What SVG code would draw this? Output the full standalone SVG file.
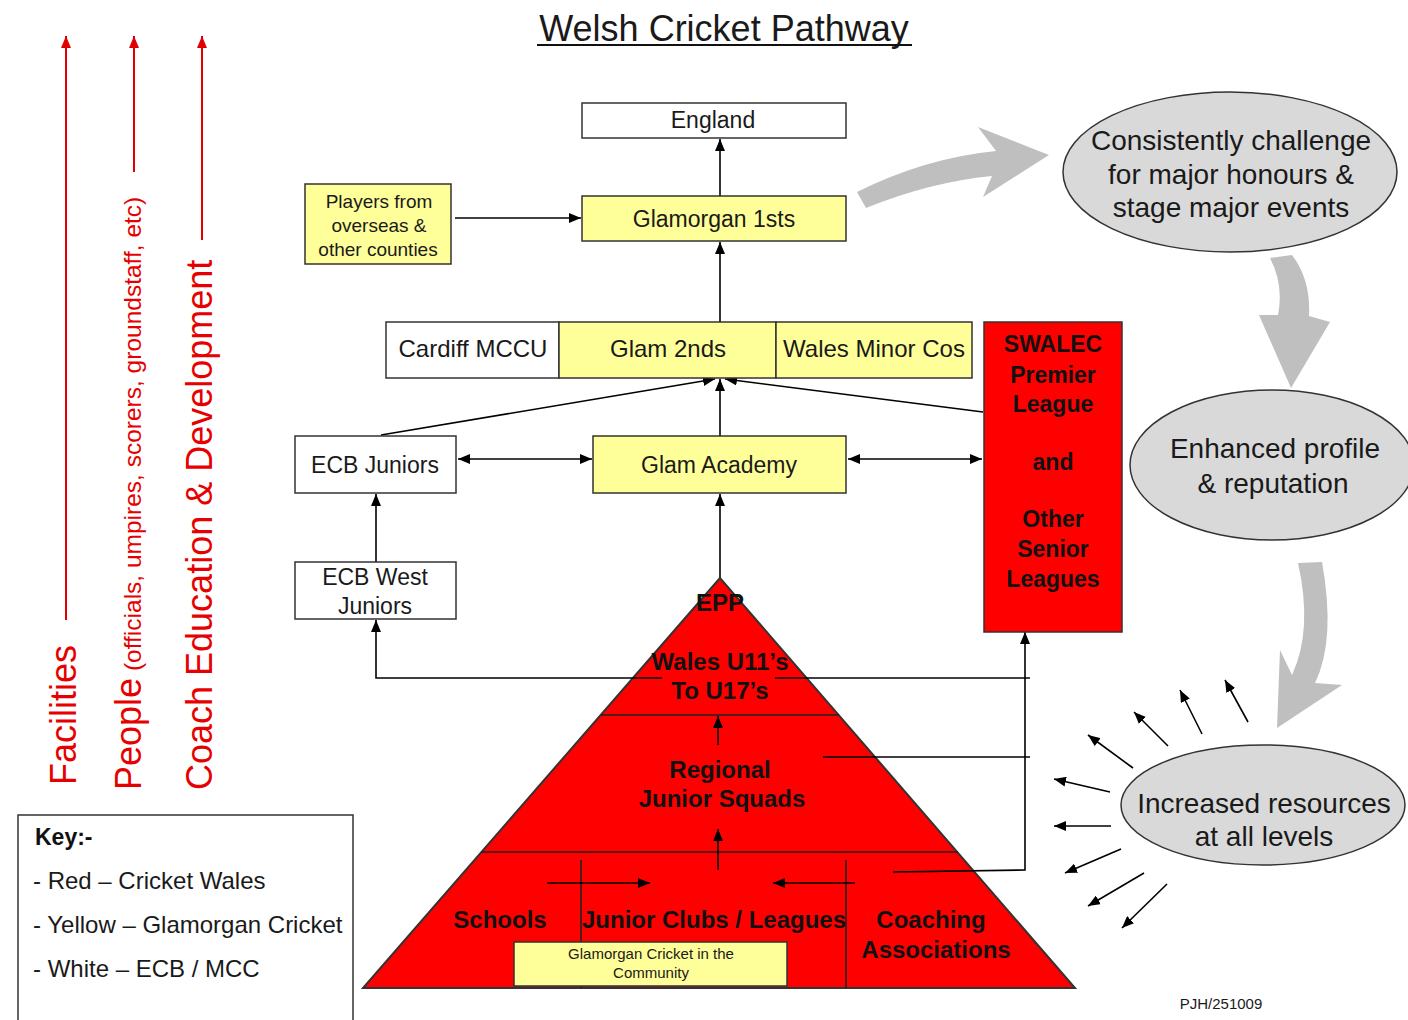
<svg xmlns="http://www.w3.org/2000/svg" width="1408" height="1020" viewBox="0 0 1408 1020">
<defs>
<marker id="ah" viewBox="0 0 10 10" refX="10" refY="5" markerWidth="12" markerHeight="10" markerUnits="userSpaceOnUse" orient="auto-start-reverse" preserveAspectRatio="none"><path d="M0,0 L10,5 L0,10 z" fill="#000"/></marker>
<marker id="rah" viewBox="0 0 10 10" refX="10" refY="5" markerWidth="12" markerHeight="10" markerUnits="userSpaceOnUse" orient="auto" preserveAspectRatio="none"><path d="M0,0 L10,5 L0,10 z" fill="#e00000"/></marker>
<style>
.box{stroke:#333;stroke-width:1.5}
.w{fill:#fff}
.y{fill:#ffff99}
.r{fill:#ff0000}
.t{font-family:"Liberation Sans",Arial,sans-serif;fill:#1a1a1a;text-anchor:middle}
.b{font-weight:bold;fill:#111}
.c{stroke:#000;stroke-width:1.6;fill:none}
.ca{stroke:#000;stroke-width:1.6;fill:none;marker-end:url(#ah)}
.cd{stroke:#000;stroke-width:1.6;fill:none;marker-end:url(#ah);marker-start:url(#ah)}
.red{stroke:#e00000;stroke-width:2;fill:none;marker-end:url(#rah)}
.rt{font-family:"Liberation Sans",Arial,sans-serif;fill:#e60000}
.ell{fill:#d9d9d9;stroke:#333;stroke-width:1.5}
.gray{fill:#bfbfbf}
</style>
</defs>
<rect width="1408" height="1020" fill="#fff"/>

<g id="title">
<text class="t" x="724" y="41" font-size="36">Welsh Cricket Pathway</text>
<line x1="537" y1="45" x2="912" y2="45" stroke="#111" stroke-width="2"/>
</g>

<g id="side-arrows">
<line class="red" x1="66" y1="620" x2="66" y2="36"/>
<line class="red" x1="134" y1="172" x2="134" y2="36"/>
<line class="red" x1="202" y1="240" x2="202" y2="36"/>
<text class="rt" transform="translate(76,785) rotate(-90)" font-size="36">Facilities</text>
<text class="rt" transform="translate(141,790) rotate(-90)" font-size="36">People<tspan font-size="24.5"> (officials, umpires, scorers, groundstaff, etc)</tspan></text>
<text class="rt" transform="translate(212,790) rotate(-90)" font-size="36">Coach Education &amp; Development</text>
</g>

<g id="key">
<rect x="18" y="815" width="335" height="215" fill="#fff" stroke="#333" stroke-width="1.5"/>
<text class="t b" x="35" y="845" font-size="23" style="text-anchor:start">Key:-</text>
<text class="t" x="33" y="889" font-size="24" style="text-anchor:start">- Red – Cricket Wales</text>
<text class="t" x="33" y="933" font-size="24" style="text-anchor:start">- Yellow – Glamorgan Cricket</text>
<text class="t" x="33" y="977" font-size="24" style="text-anchor:start">- White – ECB / MCC</text>
</g>

<g id="gray-arrows">
<path class="gray" d="M857,192 Q925,158 996,151 L978,127 L1049,155 L983,197 L992,176 Q930,182 866,208 Z"/>
<path class="gray" d="M1270,258 Q1284,285 1278,315 L1259,315 L1291,388 L1330,322 L1309,316 Q1311,280 1292,255 Z"/>
<path class="gray" d="M1298,563 L1322,562 Q1336,640 1315,683 L1342,685 L1277,728 L1280,650 L1292,675 Q1313,630 1298,563 Z"/>
</g>

<g id="connectors">
<line class="ca" x1="720" y1="196" x2="720" y2="139"/>
<line class="ca" x1="455" y1="218" x2="581" y2="218"/>
<line class="ca" x1="720" y1="322" x2="720" y2="242"/>
<line class="ca" x1="381" y1="435" x2="715" y2="379"/>
<line class="ca" x1="720" y1="436" x2="720" y2="379"/>
<line class="ca" x1="983" y1="412" x2="725" y2="379"/>
<line class="cd" x1="458" y1="459" x2="592" y2="459"/>
<line class="cd" x1="848" y1="459" x2="982" y2="459"/>
<line class="ca" x1="376" y1="562" x2="376" y2="494"/>
<line class="ca" x1="720" y1="578" x2="720" y2="494"/>
</g>

<g id="pyramid">
<polygon points="720,578 363,988 1075,988" fill="#ff0000" stroke="#333" stroke-width="2"/>
<line x1="601" y1="715" x2="839" y2="715" stroke="#222" stroke-width="1.6"/>
<line x1="481" y1="852" x2="958" y2="852" stroke="#222" stroke-width="1.6"/>
<line x1="581" y1="860" x2="581" y2="988" stroke="#222" stroke-width="1.6"/>
<line x1="846" y1="860" x2="846" y2="988" stroke="#222" stroke-width="1.6"/>
<text class="t b" x="720" y="611" font-size="24">EPP</text>
<text class="t b" x="720" y="670" font-size="24">Wales U11’s</text>
<text class="t b" x="720" y="699" font-size="24">To U17’s</text>
<text class="t b" x="720" y="778" font-size="24">Regional</text>
<text class="t b" x="722" y="807" font-size="24">Junior Squads</text>
<text class="t b" x="500" y="928" font-size="24">Schools</text>
<text class="t b" x="714" y="928" font-size="24">Junior Clubs / Leagues</text>
<text class="t b" x="931" y="928" font-size="24">Coaching</text>
<text class="t b" x="936" y="958" font-size="24">Associations</text>
</g>

<g id="pyramid-connectors">
<line class="ca" x1="718" y1="745" x2="718" y2="716"/>
<line class="ca" x1="718" y1="870" x2="718" y2="829"/>
<line class="ca" x1="547" y1="883" x2="650" y2="883"/>
<line class="ca" x1="855" y1="883" x2="773" y2="883"/>
<polyline class="ca" points="893,872 1025,870 1025,632"/>
<line class="c" x1="823" y1="757" x2="1030" y2="757"/>
<polyline class="ca" points="662,678 376,678 376,620"/>
<line class="c" x1="775" y1="678" x2="1030" y2="678"/>
</g>

<g id="community">
<rect class="box y" x="514" y="942" width="273" height="44"/>
<text class="t" x="651" y="959" font-size="15">Glamorgan Cricket in the</text>
<text class="t" x="651" y="978" font-size="15">Community</text>
</g>

<g id="england">
<rect class="box w" x="582" y="103" width="264" height="35"/>
<text class="t" x="713" y="128" font-size="23">England</text>
</g>
<g id="glam1">
<rect class="box y" x="582" y="196" width="264" height="45"/>
<text class="t" x="714" y="227" font-size="23">Glamorgan 1sts</text>
</g>
<g id="players">
<rect class="box y" x="305" y="184" width="146" height="80"/>
<text class="t" x="379" y="208" font-size="19">Players from</text>
<text class="t" x="379" y="232" font-size="19">overseas &amp;</text>
<text class="t" x="378" y="256" font-size="19">other counties</text>
</g>
<g id="cardiff">
<rect class="box w" x="386" y="322" width="173" height="56"/>
<text class="t" x="473" y="357" font-size="24">Cardiff MCCU</text>
</g>
<g id="glam2">
<rect class="box y" x="559" y="322" width="217" height="56"/>
<text class="t" x="668" y="357" font-size="24">Glam 2nds</text>
</g>
<g id="minor">
<rect class="box y" x="776" y="322" width="196" height="56"/>
<text class="t" x="874" y="357" font-size="24">Wales Minor Cos</text>
</g>
<g id="swalec">
<rect class="box r" x="984" y="322" width="138" height="310"/>
<text class="t b" x="1053" y="352" font-size="23">SWALEC</text>
<text class="t b" x="1053" y="383" font-size="23">Premier</text>
<text class="t b" x="1053" y="412" font-size="23">League</text>
<text class="t b" x="1053" y="470" font-size="23">and</text>
<text class="t b" x="1053" y="527" font-size="23">Other</text>
<text class="t b" x="1053" y="557" font-size="23">Senior</text>
<text class="t b" x="1053" y="587" font-size="23">Leagues</text>
</g>
<g id="ecbjuniors">
<rect class="box w" x="295" y="436" width="161" height="57"/>
<text class="t" x="375" y="473" font-size="23">ECB Juniors</text>
</g>
<g id="academy">
<rect class="box y" x="593" y="436" width="253" height="57"/>
<text class="t" x="719" y="473" font-size="23">Glam Academy</text>
</g>
<g id="ecbwest">
<rect class="box w" x="295" y="562" width="161" height="57"/>
<text class="t" x="375" y="585" font-size="23">ECB West</text>
<text class="t" x="375" y="614" font-size="23">Juniors</text>
</g>

<g id="honours">
<ellipse class="ell" cx="1230" cy="172" rx="167" ry="80"/>
<text class="t" x="1231" y="150" font-size="28">Consistently challenge</text>
<text class="t" x="1231" y="184" font-size="28">for major honours &amp;</text>
<text class="t" x="1231" y="217" font-size="28">stage major events</text>
</g>
<g id="profile">
<ellipse class="ell" cx="1272" cy="465" rx="142" ry="75"/>
<text class="t" x="1275" y="458" font-size="28">Enhanced profile</text>
<text class="t" x="1273" y="493" font-size="28">&amp; reputation</text>
</g>
<g id="resources">
<ellipse class="ell" cx="1263" cy="805" rx="142" ry="60"/>
<text class="t" x="1264" y="813" font-size="28">Increased resources</text>
<text class="t" x="1264" y="846" font-size="28">at all levels</text>
</g>

<g id="burst">
<line class="ca" x1="1248" y1="722" x2="1225" y2="680"/>
<line class="ca" x1="1202" y1="734" x2="1180" y2="690"/>
<line class="ca" x1="1168" y1="746" x2="1134" y2="712"/>
<line class="ca" x1="1133" y1="768" x2="1088" y2="735"/>
<line class="ca" x1="1110" y1="792" x2="1054" y2="779"/>
<line class="ca" x1="1111" y1="826" x2="1054" y2="826"/>
<line class="ca" x1="1121" y1="849" x2="1065" y2="873"/>
<line class="ca" x1="1144" y1="873" x2="1088" y2="906"/>
<line class="ca" x1="1167" y1="884" x2="1122" y2="928"/>
</g>

<text class="t" x="1221" y="1009" font-size="15">PJH/251009</text>
</svg>
